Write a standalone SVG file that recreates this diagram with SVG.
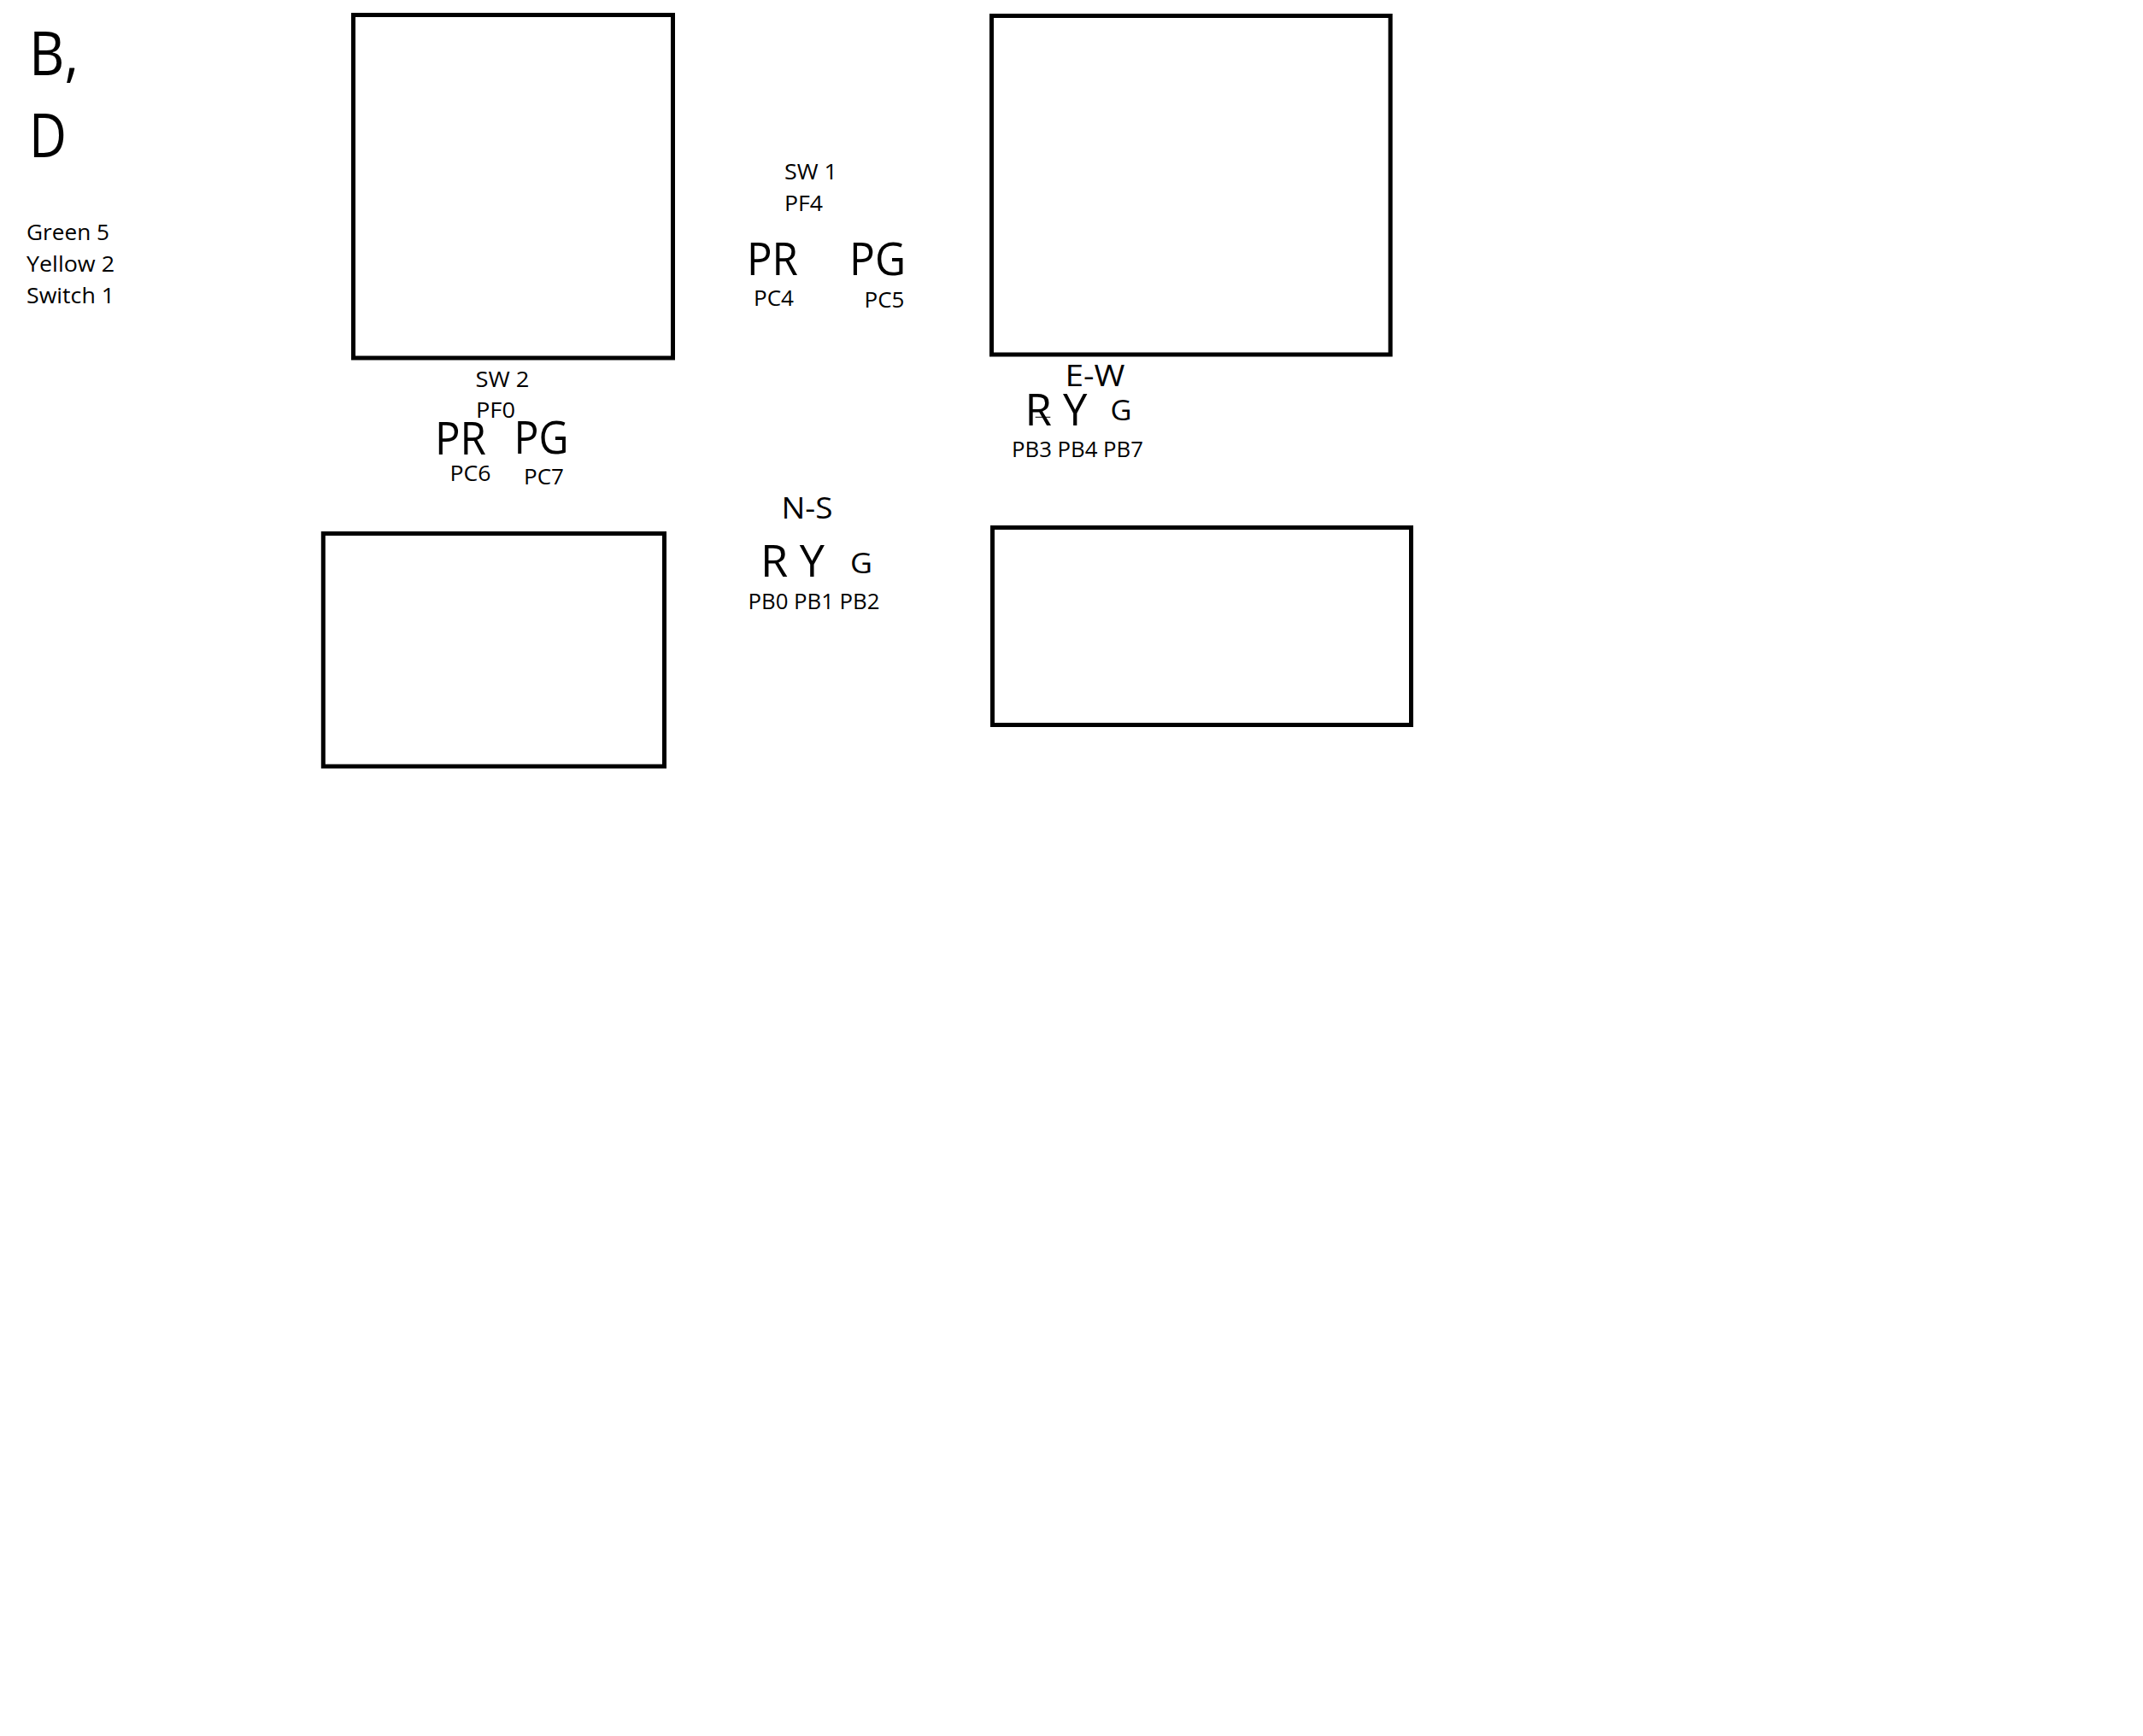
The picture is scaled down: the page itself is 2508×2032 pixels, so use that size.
<svg xmlns="http://www.w3.org/2000/svg" width="2508" height="2032" viewBox="0 0 2508 2032">
<style>
  text { font-family: "Open Sans", "Noto Sans", "Liberation Sans", sans-serif; fill: #000; }
  .box { fill: #fff; stroke: #000; stroke-width: 5; }
  .s { font-size: 26px; }
  .xl { font-size: 72px; }
  .pp { font-size: 53px; }
  .dir { font-size: 34px; }
  .ry { font-size: 51px; }
  .g { font-size: 33px; }
</style>
<rect width="2508" height="2032" fill="#fff"/>

<g id="legend">
  <text class="xl" x="34" y="88" textLength="58" lengthAdjust="spacingAndGlyphs">B,</text>
  <text class="xl" x="34" y="184" textLength="44" lengthAdjust="spacingAndGlyphs">D</text>
  <text class="s" x="31" y="281" textLength="97" lengthAdjust="spacingAndGlyphs">Green 5</text>
  <text class="s" x="31" y="318" textLength="103" lengthAdjust="spacingAndGlyphs">Yellow 2</text>
  <text class="s" x="31" y="355" textLength="103" lengthAdjust="spacingAndGlyphs">Switch 1</text>
</g>

<g id="box-top-left">
  <rect class="box" x="413.5" y="17.5" width="374" height="401.5"/>
</g>
<g id="box-top-right">
  <rect class="box" x="1160.5" y="18.5" width="466.7" height="396.5"/>
</g>
<g id="box-bottom-left">
  <rect class="box" x="378.3" y="624.5" width="399.2" height="272.5"/>
</g>
<g id="box-bottom-right">
  <rect class="box" x="1161.5" y="617.5" width="490" height="231"/>
</g>

<g id="sw1">
  <text class="s" x="918" y="210" textLength="62" lengthAdjust="spacingAndGlyphs">SW 1</text>
  <text class="s" x="918" y="246.7" textLength="45" lengthAdjust="spacingAndGlyphs">PF4</text>
  <text class="pp" x="874" y="322" textLength="60" lengthAdjust="spacingAndGlyphs">PR</text>
  <text class="pp" x="994" y="321.7" textLength="66" lengthAdjust="spacingAndGlyphs">PG</text>
  <text class="s" x="882" y="357.7" textLength="47" lengthAdjust="spacingAndGlyphs">PC4</text>
  <text class="s" x="1011.5" y="360" textLength="47" lengthAdjust="spacingAndGlyphs">PC5</text>
</g>

<g id="sw2">
  <text class="s" x="556.5" y="452.7" textLength="63" lengthAdjust="spacingAndGlyphs">SW 2</text>
  <text class="s" x="557" y="489.3" textLength="46" lengthAdjust="spacingAndGlyphs">PF0</text>
  <text class="pp" x="509" y="531.5" textLength="60" lengthAdjust="spacingAndGlyphs">PR</text>
  <text class="pp" x="601.5" y="530.7" textLength="64" lengthAdjust="spacingAndGlyphs">PG</text>
  <text class="s" x="526.5" y="563.3" textLength="48" lengthAdjust="spacingAndGlyphs">PC6</text>
  <text class="s" x="613" y="566.7" textLength="47" lengthAdjust="spacingAndGlyphs">PC7</text>
</g>

<g id="ew-signal">
  <text class="dir" x="1246.5" y="451.7" textLength="70" lengthAdjust="spacingAndGlyphs">E-W</text>
  <text class="ry" x="1199.5" y="497.7" textLength="73" lengthAdjust="spacingAndGlyphs">R Y</text>
  <text class="g" x="1299.5" y="491.7" textLength="25" lengthAdjust="spacingAndGlyphs">G</text>
  <line x1="1211.7" y1="488.3" x2="1229.3" y2="488.3" stroke="#000" stroke-width="1"/>
  <text class="s" x="1184" y="535" textLength="154" lengthAdjust="spacingAndGlyphs">PB3 PB4 PB7</text>
</g>

<g id="ns-signal">
  <text class="dir" x="914.5" y="606.7" textLength="60" lengthAdjust="spacingAndGlyphs">N-S</text>
  <text class="ry" x="890" y="675" textLength="75" lengthAdjust="spacingAndGlyphs">R Y</text>
  <text class="g" x="995" y="670.7" textLength="26" lengthAdjust="spacingAndGlyphs">G</text>
  <text class="s" x="875.5" y="713.3" textLength="154" lengthAdjust="spacingAndGlyphs">PB0 PB1 PB2</text>
</g>

<g id="connectors"/>
</svg>
